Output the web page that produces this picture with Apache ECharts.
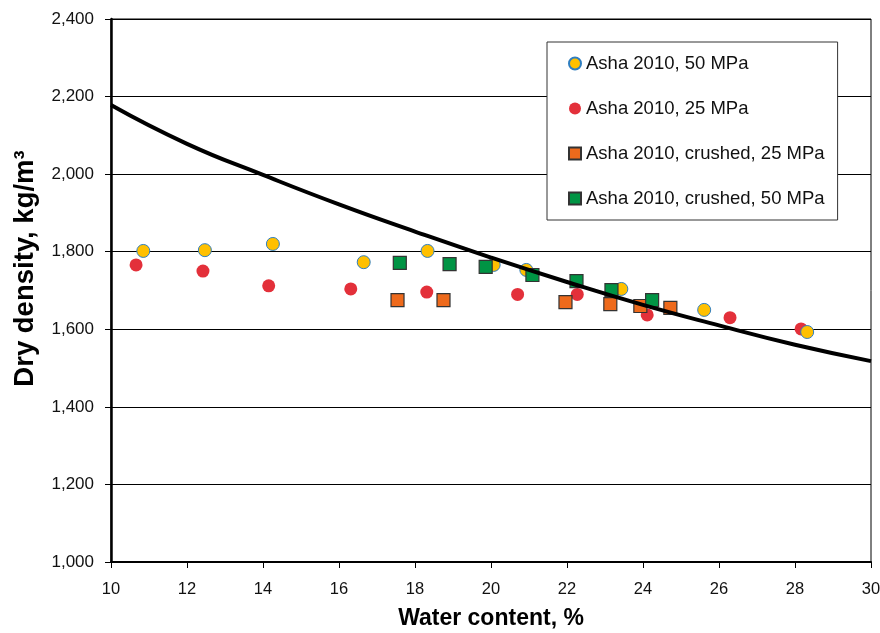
<!DOCTYPE html>
<html><head><meta charset="utf-8">
<script src="https://cdn.jsdelivr.net/npm/echarts@6/dist/echarts.min.js"></script>
<style>html,body{margin:0;padding:0;background:#fff}#c{width:880px;height:633px}</style>
</head><body><div id="c"></div>
<script>
const xTicks = [10, 30, 2];
const yTicks = [1000, 2400, 200];
const yellowX = [10.85, 12.47, 14.26, 16.65, 18.33, 20.07, 20.93, 23.43, 25.61, 28.32];
const yellowY = [1802, 1804, 1820, 1773, 1802, 1766, 1753, 1704, 1650, 1593];
const redX = [10.66, 12.42, 14.15, 16.31, 18.31, 20.70, 22.27, 24.11, 26.29, 28.16];
const redY = [1766, 1750, 1712, 1704, 1696, 1690, 1690, 1637, 1630, 1601];
const orangeX = [17.54, 18.75, 21.96, 23.14, 23.93, 24.72];
const orangeY = [1675, 1675, 1670, 1665, 1660, 1655];
const greenX = [17.60, 18.91, 19.86, 21.09, 22.25, 23.17, 24.24];
const greenY = [1771, 1768, 1761, 1740, 1724, 1701, 1675];
const curveX = [10, 12, 14, 16, 18, 20, 22, 24, 26, 28, 30];
const curveY = [2178, 2078, 1998, 1922, 1852, 1785, 1722, 1663, 1610, 1560, 1518];
const names = ['Asha 2010, 50 MPa', 'Asha 2010, 25 MPa', 'Asha 2010, crushed, 25 MPa', 'Asha 2010, crushed, 50 MPa'];

const zip = (a, b) => a.map((v, i) => [v, b[i]]);
const chart = echarts.init(document.getElementById('c'));
const font = 'Liberation Sans, Arial, sans-serif';
chart.setOption({
  animation: false,
  grid: { left: 111, right: 9, top: 19, bottom: 71, show: true, borderColor: '#000', borderWidth: 1,
    containLabel: false, outerBoundsMode: 'none' },
  xAxis: {
    type: 'value', min: xTicks[0], max: xTicks[1], interval: xTicks[2],
    name: 'Water content, %', nameLocation: 'middle', nameGap: 45,
    nameTextStyle: { fontFamily: font, fontWeight: 'bold', fontSize: 23, color: '#000' },
    axisLine: { lineStyle: { color: '#000', width: 2 } },
    axisTick: { show: true, length: 6, lineStyle: { color: '#000' } },
    axisLabel: { fontFamily: font, fontSize: 16.5, color: '#111', margin: 19 },
    splitLine: { show: false }
  },
  yAxis: {
    type: 'value', min: yTicks[0], max: yTicks[1], interval: yTicks[2],
    name: 'Dry density, kg/m³', nameLocation: 'middle', nameGap: 72,
    nameTextStyle: { fontFamily: font, fontWeight: 'bold', fontSize: 27.5, color: '#000', padding: [0, 0, 0, 44] },
    axisLine: { show: true, lineStyle: { color: '#000', width: 2.5 } },
    axisTick: { show: true, length: 6, lineStyle: { color: '#000' } },
    axisLabel: { fontFamily: font, fontSize: 17, color: '#111', margin: 17,
      formatter: v => v.toLocaleString('en-US') },
    splitLine: { show: true, lineStyle: { color: '#000', width: 1 } }
  },
  legend: {
    orient: 'vertical', left: 547, top: 42,
    padding: [12, 13, 12, 21], itemGap: 26, itemWidth: 12, itemHeight: 12,
    backgroundColor: '#fff', borderColor: '#333', borderWidth: 1,
    textStyle: { fontFamily: font, fontSize: 18.5, color: '#111' },
    data: names
  },
  series: [
    { name: names[1], type: 'scatter', data: zip(redX, redY), symbol: 'circle', symbolSize: 13, z: 2,
      itemStyle: { color: '#E3303A', opacity: 1, borderWidth: 0 } },
    { name: names[0], type: 'scatter', data: zip(yellowX, yellowY), symbol: 'circle', symbolSize: 13, z: 3,
      itemStyle: { color: '#FFC000', opacity: 1, borderColor: '#2F7EC0', borderWidth: 1 } },
    { name: names[2], type: 'scatter', data: zip(orangeX, orangeY), symbol: 'rect', symbolSize: 13, z: 4,
      itemStyle: { color: '#EE6A1C', opacity: 1, borderColor: '#333', borderWidth: 1.2 } },
    { name: names[3], type: 'scatter', data: zip(greenX, greenY), symbol: 'rect', symbolSize: 13, z: 5,
      itemStyle: { color: '#009444', opacity: 1, borderColor: '#333', borderWidth: 1.2 } },
    { name: 'curve', type: 'line', data: zip(curveX, curveY), smooth: true, showSymbol: false, z: 6,
      lineStyle: { color: '#000', width: 4 } }
  ]
});
</script></body></html>
